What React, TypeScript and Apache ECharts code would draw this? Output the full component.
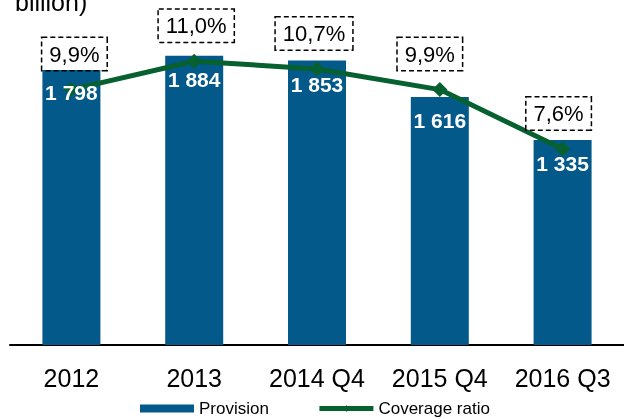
import React, { useEffect, useRef } from "react";
import * as echarts from "echarts";

const categories = ["2012", "2013", "2014 Q4", "2015 Q4", "2016 Q3"];
const provision = [1798, 1884, 1853, 1616, 1335];
const coverage = [9.9, 11.0, 10.7, 9.9, 7.6];
const unitText = "billion)";

const FONT = "'Liberation Sans', Arial, Helvetica, sans-serif";
const BAR_COLOR = "#03598A";
const LINE_COLOR = "#06602F";

// per-label horizontal nudges of the dashed boxes (style only)
const boxNudge: [number, number][] = [
  [3, 0],
  [2, 0],
  [-3, 0],
  [-10, 0],
  [-4, 0],
];

const fmtThousands = (v: number) =>
  String(v).replace(/\B(?=(\d{3})+(?!\d))/g, " ");
const fmtPct = (v: number) => v.toFixed(1).replace(".", ",") + "%";

export default function App() {
  const ref = useRef<HTMLDivElement>(null);
  useEffect(() => {
    if (!ref.current) return;
    const chart = echarts.init(ref.current, null, { renderer: "svg" });
    chart.setOption({
      animation: false,
      textStyle: { fontFamily: FONT },
      graphic: [
        {
          type: "text",
          left: 15,
          top: -11,
          style: {
            text: unitText,
            font: `25px ${FONT}`,
            fill: "#000",
          },
        },
      ],
      legend: {
        data: [
          { name: "Provision", icon: "rect" },
          {
            name: "Coverage ratio",
            lineStyle: { width: 5, color: LINE_COLOR },
          },
        ],
        left: 140,
        top: 400,
        padding: 0,
        itemWidth: 54,
        itemHeight: 8,
        itemGap: 48,
        textStyle: { fontSize: 17, color: "#000", fontFamily: FONT },
      },
      grid: { left: 10, top: 38, width: 622, height: 307, containLabel: false },
      xAxis: {
        type: "category",
        data: categories,
        axisLine: { lineStyle: { color: "#000", width: 2 } },
        axisTick: { show: false },
        axisLabel: {
          interval: 0,
          fontSize: 25,
          color: "#000",
          margin: 20,
          fontFamily: FONT,
        },
      },
      yAxis: [
        { type: "value", min: 0, max: 2000, show: false },
        { type: "value", min: 0, max: 11.9, show: false },
      ],
      series: [
        {
          name: "Provision",
          type: "bar",
          data: provision,
          barWidth: 58,
          itemStyle: { color: BAR_COLOR },
          z: 1,
        },
        {
          name: "Coverage ratio",
          type: "line",
          yAxisIndex: 1,
          data: coverage.map((v, i) => ({
            value: v,
            label: { offset: boxNudge[i] },
          })),
          symbol: "diamond",
          symbolSize: 15,
          lineStyle: { color: LINE_COLOR, width: 5 },
          itemStyle: { color: LINE_COLOR },
          z: 3,
          label: {
            show: true,
            position: "top",
            distance: 12,
            formatter: (p: any) => fmtPct(p.value),
            fontSize: 22,
            color: "#000",
            fontFamily: FONT,
            backgroundColor: "#fff",
            borderColor: "#000",
            borderWidth: 1.5,
            borderType: [5, 3],
            padding: [5, 7, 5, 7],
          },
        },
        {
          name: "ProvisionLabels",
          type: "bar",
          data: provision,
          barWidth: 58,
          barGap: "-100%",
          itemStyle: { color: "rgba(0,0,0,0)" },
          z: 5,
          silent: true,
          label: {
            show: true,
            position: "insideTop",
            distance: 13,
            formatter: (p: any) => fmtThousands(p.value),
            fontSize: 21,
            fontWeight: "bold",
            color: "#fff",
            fontFamily: FONT,
          },
        },
      ],
    });
    return () => chart.dispose();
  }, []);
  return (
    <div
      ref={ref}
      style={{ position: "fixed", left: 0, top: 0, width: 624, height: 419 }}
    />
  );
}
